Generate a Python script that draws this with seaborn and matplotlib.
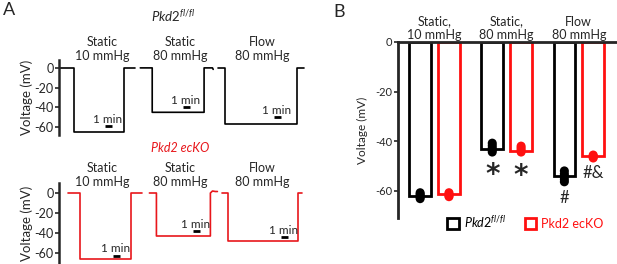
import pandas as pd
import matplotlib
matplotlib.use("Agg")
import matplotlib.pyplot as plt
import seaborn as sns
from matplotlib.patches import Patch

# ---- Data ----
# Panel A: membrane potential traces (time in min, voltage in mV), breakpoints
conditions_a = ["Static\n10 mmHg", "Static\n80 mmHg", "Flow\n80 mmHg"]

flfl_t = [
    [0.0, 2.1, 2.1, 9.3, 9.3, 10.9],
    [11.6, 13.3, 13.3, 20.7, 20.7, 21.9, 22.0],
    [22.7, 23.7, 23.7, 34.0, 34.0, 35.0],
]
flfl_v = [
    [0, 0, -65, -65, 0, 0],
    [0, 0, -45, -45, 0, 0, -1.5],
    [0, 0, -56.5, -56.5, 0, 0],
]
eko_t = [
    [1.3, 3.0, 3.0, 10.3, 10.3, 11.9],
    [12.9, 13.9, 13.9, 21.6, 21.6, 21.9, 22.3, 22.6],
    [23.3, 24.1, 24.1, 34.1, 34.1, 34.7],
]
eko_v = [
    [0, 0, -66, -66, 0, 0],
    [0, 0, -43, -43, 0, 2, 1.5, 1.5],
    [0, 0, -48, -48, 0, 0],
]
# 1 min scale bars (start time, voltage level)
flfl_bar_t = [6.6, 17.7, 30.7]
flfl_bar_v = [-59, -40, -50]
eko_bar_t = [7.7, 19.1, 31.7]
eko_bar_v = [-63, -38, -44]

# Panel B: mean voltage per condition / genotype and individual cells
conditions_b = ["Static,\n10 mmHg", "Static,\n80 mmHg", "Flow\n80 mmHg"]
genotypes = ["Pkd2 fl/fl", "Pkd2 ecKO"]
mean_flfl = [-62.0, -43.0, -54.0]
mean_eko = [-61.2, -44.0, -46.0]
cells_flfl = [
    [-60.8, -61.4, -62.0, -62.6, -63.2],
    [-40.8, -41.8, -42.8, -43.6, -44.4],
    [-52.0, -53.2, -54.2, -55.4, -56.4],
]
cells_eko = [
    [-60.8, -61.4, -62.0, -62.4],
    [-42.0, -42.8, -43.6, -44.4],
    [-45.6, -46.0, -46.4, -46.8],
]
sig_labels = ["", "*", "#", "", "*", "#&"]  # fl/fl x3, ecKO x3
sig_y = [0, -53.5, -63, 0, -54.2, -53]

# ---- Tables ----
means = pd.DataFrame({
    "cond": conditions_b * 2,
    "geno": [genotypes[0]] * 3 + [genotypes[1]] * 3,
    "v": mean_flfl + mean_eko,
})
rows = []
for g, cells in zip(genotypes, [cells_flfl, cells_eko]):
    for c, vals in zip(conditions_b, cells):
        for v in vals:
            rows.append({"cond": c, "geno": g, "v": v})
cells = pd.DataFrame(rows)

# ---- Style ----
sns.set_style("ticks")
plt.rcParams["font.family"] = ["Lato", "DejaVu Sans"]
plt.rcParams["mathtext.fontset"] = "custom"
plt.rcParams["mathtext.it"] = "Lato:italic"
plt.rcParams["mathtext.rm"] = "Lato"

W, H = 617, 264
fig = plt.figure(figsize=(W / 100, H / 100), dpi=100)


def box(l, t, r, b):
    return [l / W, 1 - b / H, (r - l) / W, (b - t) / H]


def ftext(x, y, s, **kw):
    fig.text(x / W, 1 - y / H, s, ha="center", va="center", **kw)


# ---- Panel A ----
for (t_list, v_list, bt, bv, color, ylim, rect) in [
    (flfl_t, flfl_v, flfl_bar_t, flfl_bar_v, "black", (-68, 8), box(59, 60, 305, 135)),
    (eko_t, eko_v, eko_bar_t, eko_bar_v, "#e8161b", (-71, 10), box(59, 183, 305, 264)),
]:
    ax = fig.add_axes(rect)
    for t, v in zip(t_list, v_list):
        sns.lineplot(x=t, y=v, sort=False, estimator=None, color=color, lw=1.2, ax=ax)
    for x0, y0 in zip(bt, bv):
        ax.plot([x0, x0 + 1], [y0, y0], color="black", lw=2, solid_capstyle="butt")
        ax.text(x0 + 0.4, y0 + 1.5, "1 min", ha="center", va="bottom", fontsize=8.5)
    ax.set_xlim(0, 35.1)
    ax.set_ylim(*ylim)
    ax.set_yticks([0, -20, -40, -60])
    ax.set_yticklabels(["0", "-20", "-40", "-60"], fontsize=9)
    ax.set_xticks([])
    sns.despine(ax=ax, bottom=True)
    ax.spines["left"].set_linewidth(1.8)
    ax.tick_params(axis="y", length=3, width=1.2, pad=1)
    ax.set_ylabel("Voltage (mV)", fontsize=9.5, labelpad=1)
    ax.patch.set_alpha(0)

for i, cx in enumerate([102, 180, 262]):
    ftext(cx, 49, conditions_a[i], fontsize=9, linespacing=1.1)
    ftext(cx, 175, conditions_a[i], fontsize=9, linespacing=1.1)
ftext(173, 16, r"$\mathit{Pkd2}^{\mathit{fl/fl}}$", fontsize=9.5)
ftext(180, 148, "Pkd2 ecKO", fontsize=9, style="italic", color="#e8161b")

# ---- Panel B ----
axb = fig.add_axes(box(398, 42, 617, 218))
sns.barplot(data=means, x="cond", y="v", hue="geno", order=conditions_b,
            hue_order=genotypes, palette=["black", "#ff1010"], fill=False,
            linewidth=2, width=0.8, gap=0.25, errorbar=None, legend=False, ax=axb)
sns.stripplot(data=cells, x="cond", y="v", hue="geno", order=conditions_b,
              hue_order=genotypes, palette=["black", "#ff1010"], dodge=True,
              jitter=False, size=6.5, linewidth=0, legend=False, ax=axb)
axb.set_xlim(-0.507, 2.53)
axb.set_ylim(-71, 0)
axb.set_yticks([0, -20, -40, -60])
axb.set_yticklabels(["0", "-20", "-40", "-60"], fontsize=8)
axb.xaxis.set_ticks_position("top")
axb.xaxis.set_label_position("top")
axb.set_xticks([0, 1, 2])
axb.set_xticklabels(conditions_b, fontsize=9, linespacing=1.1)
axb.tick_params(axis="x", length=0, pad=1)
axb.tick_params(axis="y", length=3, width=1.2, pad=1)
axb.set_xlabel("")
axb.set_ylabel("Voltage (mV)", fontsize=8.5, labelpad=5)
for s in ["right", "bottom"]:
    axb.spines[s].set_visible(False)
axb.spines["left"].set_linewidth(2)
axb.spines["top"].set_linewidth(2)
axb.patch.set_alpha(0)

xpos = [-0.2, 0.8, 1.8, 0.2, 1.2, 2.2]
for x, lab, y in zip(xpos, sig_labels, sig_y):
    if lab == "*":
        axb.text(x, y, lab, ha="center", va="center", fontsize=20,
                 family="DejaVu Sans", fontweight="bold")
    elif lab:
        axb.text(x, y, lab, ha="center", va="center", fontsize=12)

handles = [Patch(facecolor="none", edgecolor="black", linewidth=2),
           Patch(facecolor="none", edgecolor="#ff1010", linewidth=2)]
fig.legend(handles, [r"$\mathit{Pkd2}^{\mathit{fl/fl}}$", "Pkd2 ecKO"],
           loc="center left", bbox_to_anchor=(441 / W, 1 - 222 / H), ncol=2,
           frameon=False, fontsize=9, handlelength=0.9, handleheight=0.9,
           handletextpad=0.4, columnspacing=1.5, borderpad=0,
           labelcolor=["black", "#ff1010"])

fig.text(3 / W, 1 - 10 / H, "A", fontsize=13, va="center")
fig.text(333 / W, 1 - 12 / H, "B", fontsize=13, va="center")

plt.savefig("out.png", dpi=100)
plt.close()
